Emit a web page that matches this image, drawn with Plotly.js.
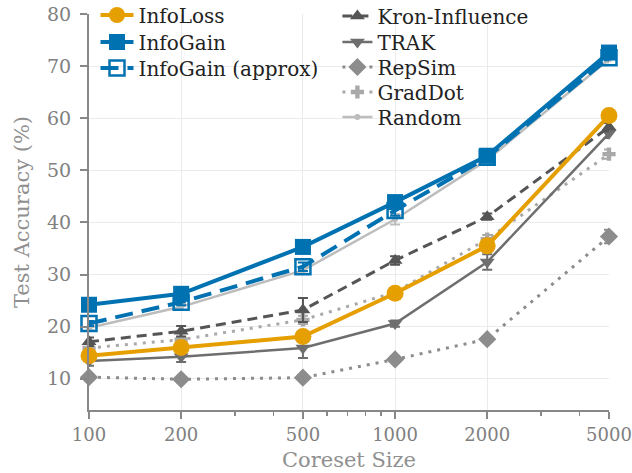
<!DOCTYPE html>
<html>
<head>
<meta charset="utf-8">
<script src="https://cdn.plot.ly/plotly-3.0.1.min.js"></script>
<style>html,body{margin:0;padding:0;background:#fff;}#chart{width:632px;height:473px;}</style>
</head>
<body>
<div id="chart"></div>
<script>
const coresetSizes = [100, 200, 500, 1000, 2000, 5000];
const xTickLabels = ['100', '200', '500', '1000', '2000', '5000'];
const xMinorTicks = [300, 400, 600, 700, 800, 900, 3000, 4000];
const yTickVals = [10, 20, 30, 40, 50, 60, 70, 80];

const infoLoss = [14.4, 16.0, 18.1, 26.4, 35.5, 60.5];
const infoLossErr = [0.4, 0.4, 0.4, 0.5, 0.6, 0.5];
const infoGain = [24.2, 26.3, 35.3, 43.9, 52.8, 72.6];
const infoGainErr = [0.4, 0.5, 0.6, 0.5, 0.5, 0.5];
const infoGainApprox = [20.6, 24.7, 31.5, 42.3, 52.5, 71.6];
const infoGainApproxErr = [0.5, 0.6, 0.8, 1.0, 0.6, 0.5];
const kronInfluence = [17.1, 19.1, 23.2, 32.7, 41.1, 58.3];
const kronInfluenceErr = [0.8, 1.0, 2.3, 0.8, 0.6, 0.8];
const trak = [13.4, 14.2, 15.9, 20.6, 32.4, 57.1];
const trakErr = [0.9, 1.0, 1.9, 0.6, 1.5, 0.9];
const repSim = [10.3, 9.9, 10.2, 13.7, 17.6, 37.3];
const repSimErr = [0.4, 0.3, 0.3, 0.6, 0.5, 1.3];
const gradDot = [15.9, 17.5, 21.3, 26.6, 36.8, 53.1];
const gradDotErr = [0.6, 0.5, 0.8, 0.7, 0.8, 0.9];
const randomSel = [19.8, 23.8, 30.8, 40.6, 52.0, 71.3];
const randomSelErr = [0.5, 0.6, 0.6, 1.0, 0.6, 0.6];

function mk(name, y, err, color, width, dash, symbol, msize, legend, extra) {
  const t = {
    type: 'scatter', mode: 'lines+markers', name: name,
    x: coresetSizes, y: y,
    line: {color: color, width: width, dash: dash},
    marker: {symbol: symbol, size: msize, color: color},
    error_y: {type: 'data', array: err, visible: true, color: color, thickness: 2, width: 5},
    cliponaxis: false,
    legend: legend
  };
  if (extra) Object.assign(t.marker, extra);
  return t;
}

const traces = [
  mk('Random', randomSel, randomSelErr, '#bdbdbd', 2.5, 'solid', 'circle', 6, 'legend8'),
  mk('GradDot', gradDot, gradDotErr, '#a9a9a9', 3, '3px,6px', 'cross', 11, 'legend7'),
  mk('RepSim', repSim, repSimErr, '#8c8c8c', 3, '3px,6px', 'diamond', 14, 'legend6'),
  mk('TRAK', trak, trakErr, '#6e6e6e', 2.5, 'solid', 'triangle-down', 13, 'legend5'),
  mk('Kron-Influence', kronInfluence, kronInfluenceErr, '#555555', 3, '10px,6px', 'triangle-up', 13, 'legend4'),
  mk('InfoGain (approx)', infoGainApprox, infoGainApproxErr, '#0072B2', 4, '18px,9px', 'square-open', 15, 'legend3', {line: {width: 2.5, color: '#0072B2'}}),
  mk('InfoGain', infoGain, infoGainErr, '#0072B2', 4, 'solid', 'square', 16, 'legend2'),
  mk('InfoLoss', infoLoss, infoLossErr, '#E69F00', 4, 'solid', 'circle', 17, 'legend')
];

const font = 'DejaVu Serif';
function leg(x, y, iw) {
  return {
    bgcolor: 'rgba(0,0,0,0)', borderwidth: 0,
    font: {family: font, size: 20, color: '#222'},
    xanchor: 'left', yanchor: 'middle', x: x, y: y,
    itemwidth: iw, itemclick: false
  };
}
const plotTop = 14, plotBottom = 410;
function py(px) { return (plotBottom - px) / (plotBottom - plotTop); }

const layout = {
  width: 632, height: 473,
  margin: {l: 89, r: 23, t: 14, b: 63, autoexpand: false},
  paper_bgcolor: '#fff', plot_bgcolor: '#fff',
  font: {family: font, color: '#888'},
  showlegend: true,
  legend: leg(0.0125, py(15), 33),
  legend2: leg(0.0125, py(42), 33),
  legend3: leg(0.0125, py(68), 33),
  legend4: leg(0.4777, py(16), 30),
  legend5: leg(0.4777, py(42), 30),
  legend6: leg(0.4777, py(67), 30),
  legend7: leg(0.4777, py(92), 30),
  legend8: leg(0.4777, py(117), 30),
  xaxis: {
    type: 'log', range: [2, 3.69898],
    tickvals: coresetSizes, ticktext: xTickLabels,
    ticks: 'outside', ticklen: 7, tickwidth: 2, tickcolor: '#888',
    ticklabeloverflow: 'allow',
    minor: {tickvals: xMinorTicks, ticks: 'outside', ticklen: 4, tickwidth: 1.5, tickcolor: '#888', showgrid: false},
    showline: true, linecolor: '#888', linewidth: 2,
    showgrid: true, gridcolor: '#ebebeb', gridwidth: 1,
    zeroline: false,
    tickfont: {family: font, size: 18, color: '#808080'},
    title: {text: 'Coreset Size', font: {family: font, size: 21, color: '#909090'}, standoff: 9}
  },
  yaxis: {
    range: [4, 80],
    tickvals: yTickVals,
    ticks: 'outside', ticklen: 7, tickwidth: 2, tickcolor: '#888',
    ticklabelstandoff: 5,
    ticklabeloverflow: 'allow',
    showline: true, linecolor: '#888', linewidth: 2,
    showgrid: true, gridcolor: '#ebebeb', gridwidth: 1,
    zeroline: false,
    tickfont: {family: font, size: 19, color: '#808080'},
    title: {text: 'Test Accuracy (%)', font: {family: font, size: 21, color: '#909090'}, standoff: 12}
  }
};

Plotly.newPlot('chart', traces, layout, {displayModeBar: false, staticPlot: true});
</script>
</body>
</html>
